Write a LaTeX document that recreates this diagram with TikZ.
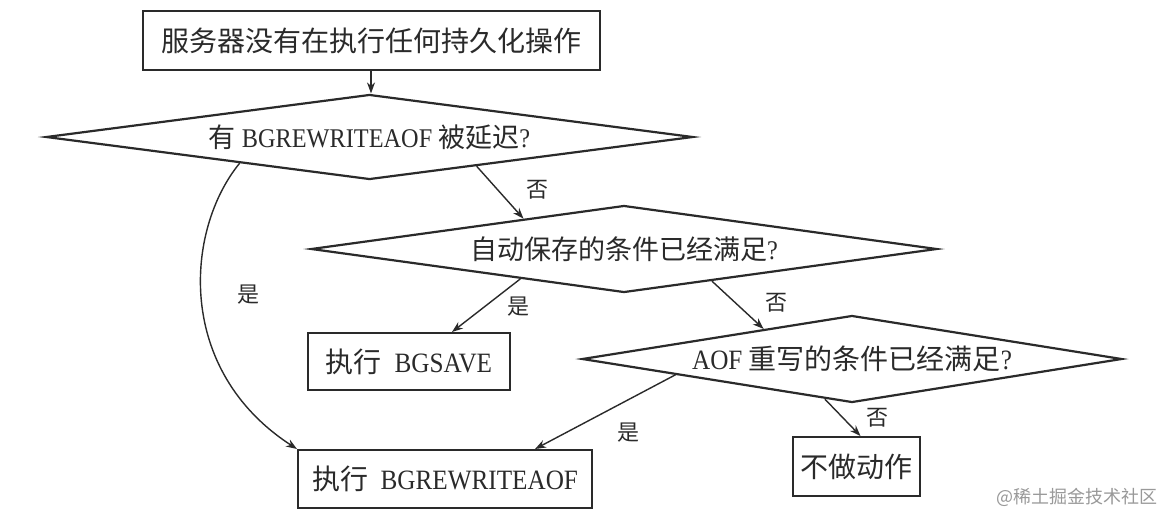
\documentclass[tikz,border=0pt]{standalone}
\usepackage{fontspec}
\setmainfont{Liberation Serif}[FakeStretch=0.9]
\newfontfamily\cjk{Noto Sans CJK SC}
\usetikzlibrary{shapes.geometric,arrows.meta,calc}
\definecolor{ink}{HTML}{2A2A2A}
\tikzset{
  box/.style={draw=ink,line width=1pt,rectangle,inner sep=0pt,text=ink,font=\fontsize{14}{16}\selectfont},
  decision/.style={draw=ink,line width=1.1pt,diamond,aspect=7.5,inner sep=0pt,text=ink,font=\fontsize{13.5}{16}\selectfont},
  conn/.style={draw=ink,line width=0.7pt,-{Stealth[length=5.5pt,width=4pt]}},
  lbl/.style={text=ink,font=\cjk\fontsize{11}{13}\selectfont,inner sep=0pt},
  wm/.style={text=black!40,font=\cjk\fontsize{9}{11}\selectfont,inner sep=0pt}
}
\begin{document}
\begin{tikzpicture}[x=0.5pt,y=-0.5pt]
\useasboundingbox (0,0) rectangle (1172,516);
\fill[white] (0,0) rectangle (1172,516);

\node[box,minimum width=228.5pt,minimum height=29.5pt] (start) at (371,40.5) {\cjk 服务器没有在执行任何持久化操作};
\node[decision,minimum width=323.5pt,minimum height=42.5pt] (d1) at (369.5,137) {{\cjk 有} BGREWRITEAOF {\cjk 被延迟}?};
\node[decision,minimum width=313pt,minimum height=43.5pt] (d2) at (624,249) {{\cjk 自动保存的条件已经满足}?};
\node[box,minimum width=101pt,minimum height=28.5pt] (bgsave) at (409,361.5) {{\cjk 执行}\ \ BGSAVE};
\node[decision,minimum width=270pt,minimum height=43.5pt,font=\fontsize{14}{16}\selectfont] (d3) at (852,359) {AOF {\cjk 重写的条件已经满足}?};
\node[box,minimum width=147pt,minimum height=29pt] (bgrw) at (445,479) {{\cjk 执行}\ \ BGREWRITEAOF};
\node[box,minimum width=63.5pt,minimum height=29.5pt] (none) at (856.5,466.5) {\cjk 不做动作};

\draw[conn] (start.south) -- (start.south |- d1.north);
\draw[conn] ($(d1.south)!0.33!(d1.east)$) -- ($(d2.north)!0.32!(d2.west)$);
\draw[conn] ($(d1.west)!0.6!(d1.south)$) .. controls (185,230) and (175,370) .. (bgrw.north west);
\draw[conn] ($(d2.west)!0.67!(d2.south)$) -- ($(bgsave.north)+(43,0)$);
\draw[conn] ($(d2.south)!0.28!(d2.east)$) -- ($(d3.north)!0.326!(d3.west)$);
\draw[conn] ($(d3.west)!0.35!(d3.south)$) -- ($(bgrw.north)+(90,0)$);
\draw[conn] ($(d3.west)!0.9!(d3.south)$) -- ($(none.north)+(4,0)$);

\node[lbl] (l1) at (537,190) {否};
\node[lbl] (l2) at (248,295) {是};
\node[lbl] (l3) at (518,307) {是};
\node[lbl] (l4) at (776,303) {否};
\node[lbl] (l5) at (628,433) {是};
\node[lbl] (l6) at (877,418) {否};

\node[wm] (wm) at (1077,497) {@稀土掘金技术社区};
\end{tikzpicture}
\end{document}
